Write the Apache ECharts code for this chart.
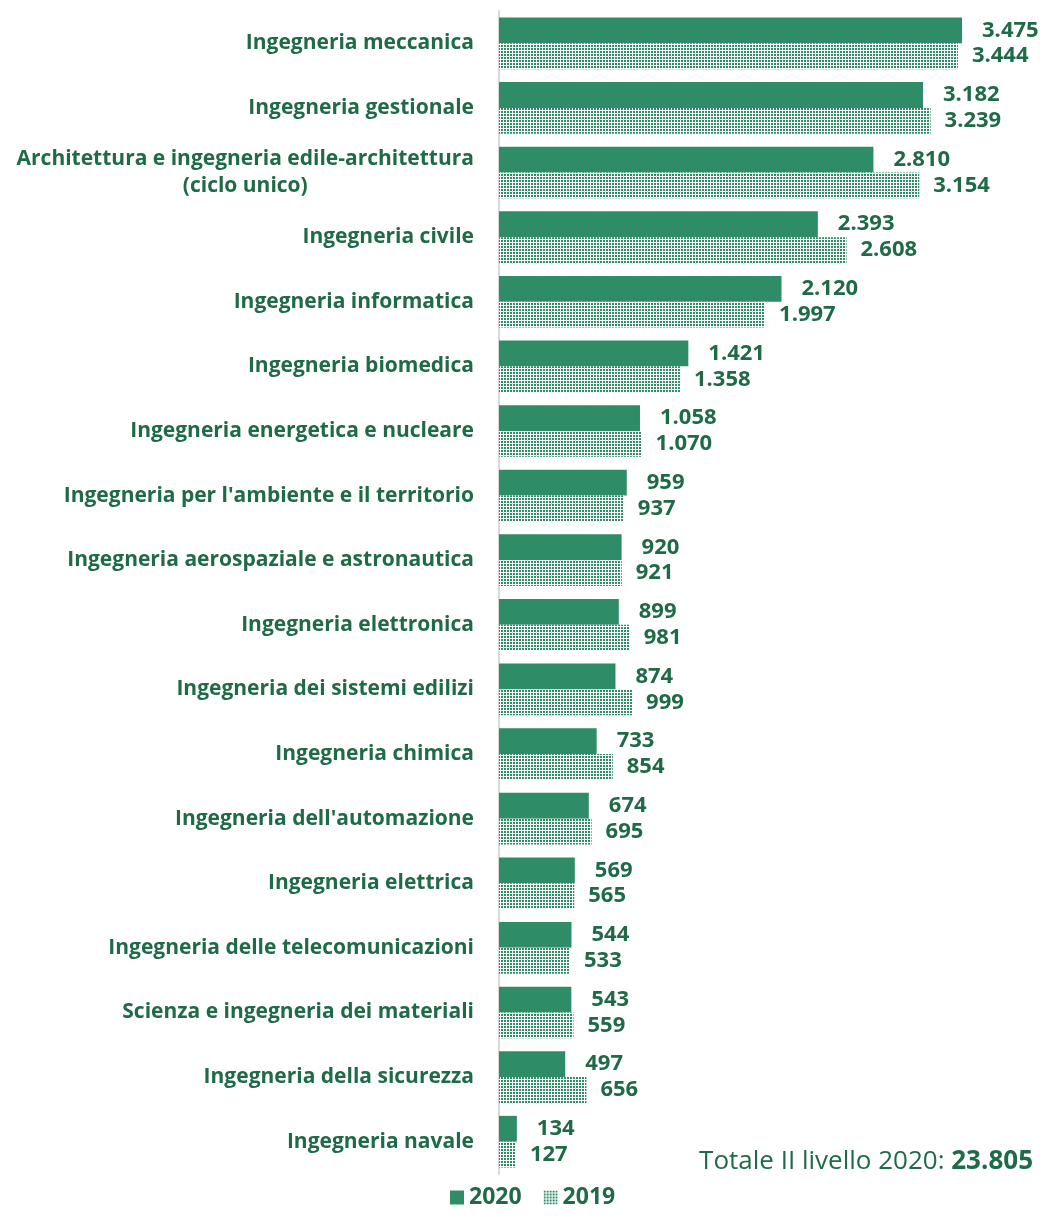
<!DOCTYPE html>
<html><head><meta charset="utf-8">
<script src="https://cdn.jsdelivr.net/npm/echarts@6/dist/echarts.min.js"></script>
<style>html,body{margin:0;padding:0;background:#fff}#c{width:1043px;height:1231px}</style>
</head><body><div id="c"></div>
<script>
const categories = [
  "Ingegneria meccanica","Ingegneria gestionale","Architettura e ingegneria edile-architettura\n(ciclo unico)",
  "Ingegneria civile","Ingegneria informatica","Ingegneria biomedica","Ingegneria energetica e nucleare",
  "Ingegneria per l'ambiente e il territorio","Ingegneria aerospaziale e astronautica","Ingegneria elettronica",
  "Ingegneria dei sistemi edilizi","Ingegneria chimica","Ingegneria dell'automazione","Ingegneria elettrica",
  "Ingegneria delle telecomunicazioni","Scienza e ingegneria dei materiali","Ingegneria della sicurezza","Ingegneria navale"
];
const values2020 = [3475,3182,2810,2393,2120,1421,1058,959,920,899,874,733,674,569,544,543,497,134];
const values2019 = [3444,3239,3154,2608,1997,1358,1070,937,921,981,999,854,695,565,533,559,656,127];
const seriesNames = ["2020","2019"];
const totalLabel = "Totale II livello 2020: ";
const totalValue = "23.805";

const GREEN = '#2e8c66';
const TEXT = '#1f6a47';
const FONT = 'Open Sans';

function fmt(v){ return String(v).replace(/\B(?=(\d{3})+(?!\d))/g,'.'); }

const pc = document.createElement('canvas');
pc.width = 3; pc.height = 3;
const pctx = pc.getContext('2d');
pctx.fillStyle = '#fff'; pctx.fillRect(0,0,3,3);
pctx.fillStyle = GREEN;
pctx.fillRect(0,0,2,2);

const chart = echarts.init(document.getElementById('c'), null, {renderer:'canvas'});
chart.setOption({
  animation:false,
  grid:{left:499, right:11, top:11, bottom:57, containLabel:false},
  xAxis:{type:'value', min:0, max:4000, show:false},
  yAxis:{type:'category', inverse:true, data:categories,
    axisLine:{show:true, lineStyle:{color:'#d9d9d9', width:2}},
    axisTick:{show:false},
    axisLabel:{margin:25, color:TEXT, fontFamily:FONT, fontWeight:'bold', fontSize:21, align:'right', lineHeight:27,
      formatter:function(v){ return v.indexOf('\n')>=0 ? v.split('\n').map(s=>'{c|'+s+'}').join('\n') : v; },
      rich:{c:{align:'center', color:TEXT, fontFamily:FONT, fontWeight:'bold', fontSize:21, lineHeight:27}}}
  },
  legend:{bottom:17, left:445, itemWidth:14, itemHeight:14, itemGap:22,
    textStyle:{color:TEXT, fontFamily:FONT, fontWeight:'bold', fontSize:23},
    data:[{name:'2020', icon:'rect'},{name:'2019', icon:'rect'}]},
  graphic:[{type:'text', right:10, top:1149, style:{
    text:'{n|'+totalLabel+'}{b|'+totalValue+'}',
    rich:{n:{fontFamily:FONT, fontSize:26, fill:TEXT, color:TEXT}, b:{fontFamily:FONT, fontSize:26, fontWeight:'bold', fill:TEXT, color:TEXT}}
  }}],
  series:[
    {name:seriesNames[0], type:'bar', data:values2020, barGap:'0%', barCategoryGap:'20%',
      itemStyle:{color:GREEN},
      label:{show:true, position:'right', distance:20, color:TEXT, fontFamily:FONT, fontWeight:'bold', fontSize:22, formatter:p=>fmt(p.value)}},
    {name:seriesNames[1], type:'bar', data:values2019, barGap:'0%', barCategoryGap:'20%',
      itemStyle:{color:{image:pc, repeat:'repeat'}},
      label:{show:true, position:'right', distance:14, color:TEXT, fontFamily:FONT, fontWeight:'bold', fontSize:22, formatter:p=>fmt(p.value)}}
  ]
});
</script></body></html>
